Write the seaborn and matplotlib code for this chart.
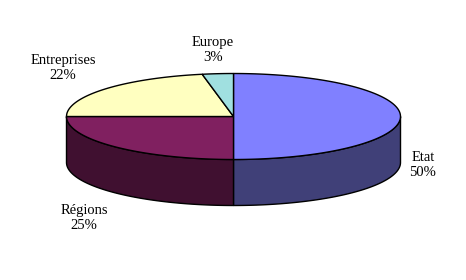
import numpy as np
import matplotlib
matplotlib.use("Agg")
import matplotlib.pyplot as plt
import seaborn as sns

labels = ["Etat", "Régions", "Entreprises", "Europe"]
values = [50, 25, 22, 3]
top_colors = ["#8080FF", "#802060", "#FFFFC0", "#A0E0E0"]
side_colors = ["#404078", "#401030", "#808060", "#507070"]
label_pos = [(423, 165), (84, 218), (63, 68), (213, 50)]

sns.set_style("white")
plt.rcParams['font.family'] = ['Liberation Serif', 'DejaVu Serif']

W, H = 466, 280
fig = plt.figure(figsize=(W / 100, H / 100), dpi=100)
ax = fig.add_axes([0, 0, 1, 1])
ax.set_xlim(0, W)
ax.set_ylim(H, 0)
ax.axis("off")

cx, cy, a, b, depth = 233.5, 116.5, 167, 43, 46


def pt(theta_deg, dy=0.0):
    t = np.radians(theta_deg)
    return cx + a * np.sin(t), cy - b * np.cos(t) + dy


total = sum(values)
bounds = np.concatenate([[0], np.cumsum(values) / total * 360])

# sides (front half: 90..270 deg clockwise from top)
for i in range(len(values)):
    s, e = max(bounds[i], 90), min(bounds[i + 1], 270)
    if e <= s:
        continue
    th = np.linspace(s, e, 80)
    xs_t, ys_t = pt(th)
    xs_b, ys_b = pt(th[::-1], depth)
    ax.fill(np.concatenate([xs_t, xs_b]), np.concatenate([ys_t, ys_b]),
            facecolor=side_colors[i], edgecolor="black", linewidth=1.0)

# tops
for i in range(len(values)):
    th = np.linspace(bounds[i], bounds[i + 1], 120)
    xs, ys = pt(th)
    ax.fill(np.concatenate([[cx], xs]), np.concatenate([[cy], ys]),
            facecolor=top_colors[i], edgecolor="black", linewidth=1.0,
            joinstyle="miter")

for lab, v, (x, y) in zip(labels, values, label_pos):
    ax.text(x, y, f"{lab}\n{v}%", ha="center", va="center", fontsize=10.5,
            linespacing=1.2, color="black")

fig.savefig("out.png", dpi=100)
